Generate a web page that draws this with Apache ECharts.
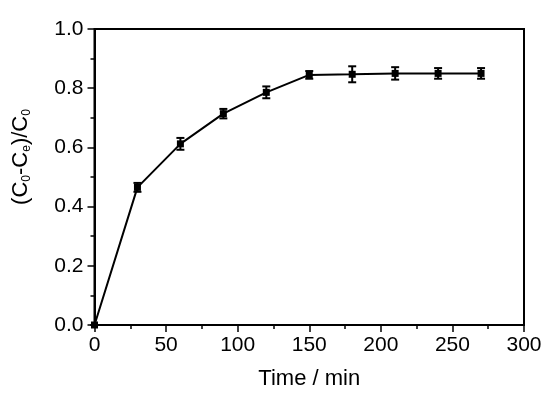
<!DOCTYPE html>
<html><head><meta charset="utf-8">
<script src="https://cdn.jsdelivr.net/npm/echarts@6/dist/echarts.min.js"></script>
<style>html,body{margin:0;padding:0;background:#fff}#c{width:550px;height:397px}</style>
</head><body><div id="c"></div>
<script>
var time = [0, 30, 60, 90, 120, 150, 180, 210, 240, 270];
var ratio = [0, 0.465, 0.612, 0.714, 0.786, 0.845, 0.847, 0.850, 0.850, 0.850];
var errs = [0, 0.015, 0.020, 0.016, 0.020, 0.013, 0.027, 0.021, 0.018, 0.018];
var xTicks = [0, 50, 100, 150, 200, 250, 300];
var yTicks = [0.0, 0.2, 0.4, 0.6, 0.8, 1.0];

var F = '"Liberation Sans", Arial, sans-serif';
var chart = echarts.init(document.getElementById('c'));
var lineData = time.map(function (t, i) { return [t, ratio[i]]; });
var errData = time.map(function (t, i) { return [t, ratio[i] - errs[i], ratio[i] + errs[i]]; });

chart.setOption({
  animation: false,
  grid: { left: 94.5, right: 26, top: 29, bottom: 72, show: true, borderColor: '#000', borderWidth: 2, backgroundColor: 'transparent' },
  xAxis: {
    type: 'value', min: xTicks[0], max: xTicks[xTicks.length - 1], interval: 50,
    name: 'Time / min', nameLocation: 'middle', nameGap: 43,
    nameTextStyle: { fontFamily: F, fontSize: 22, color: '#000' },
    axisLine: { show: true, onZero: false, lineStyle: { color: '#000', width: 2 } },
    axisTick: { show: true, inside: false, length: 7, lineStyle: { color: '#000', width: 1.5 } },
    minorTick: { show: true, splitNumber: 2, length: 4, lineStyle: { color: '#000', width: 1.5 } },
    axisLabel: { fontFamily: F, fontSize: 21, color: '#000', margin: 10 },
    splitLine: { show: false }
  },
  yAxis: {
    type: 'value', min: yTicks[0], max: yTicks[yTicks.length - 1], interval: 0.2,
    name: '{n|(C}{s|0}{n|-C}{s|e}{n|)/C}{s|0}', nameLocation: 'middle', nameGap: 62, nameRotate: 90,
    nameTextStyle: {
      padding: [0, 0, 0, 40],
      rich: {
        n: { fontFamily: F, fontSize: 22, color: '#000' },
        s: { fontFamily: F, fontSize: 12, color: '#000', verticalAlign: 'bottom', padding: [12, 0, 0, 0] }
      }
    },
    axisLine: { show: true, onZero: false, lineStyle: { color: '#000', width: 2 } },
    axisTick: { show: true, inside: false, length: 7, lineStyle: { color: '#000', width: 1.5 } },
    minorTick: { show: true, splitNumber: 2, length: 4, lineStyle: { color: '#000', width: 1.5 } },
    axisLabel: { fontFamily: F, fontSize: 21, color: '#000', margin: 11, formatter: function (v) { return v.toFixed(1); } },
    splitLine: { show: false }
  },
  series: [
    {
      type: 'line', data: lineData, symbol: 'rect', symbolSize: 7,
      lineStyle: { color: '#000', width: 2 }, itemStyle: { color: '#000' }, z: 3
    },
    {
      type: 'custom', data: errData, z: 4,
      renderItem: function (params, api) {
        var x = api.value(0);
        var lo = api.coord([x, api.value(1)]);
        var hi = api.coord([x, api.value(2)]);
        var hw = 4;
        var st = { stroke: '#000', lineWidth: 2 };
        return {
          type: 'group', children: [
            { type: 'line', shape: { x1: lo[0], y1: lo[1], x2: hi[0], y2: hi[1] }, style: st },
            { type: 'line', shape: { x1: lo[0] - hw, y1: lo[1], x2: lo[0] + hw, y2: lo[1] }, style: st },
            { type: 'line', shape: { x1: hi[0] - hw, y1: hi[1], x2: hi[0] + hw, y2: hi[1] }, style: st }
          ]
        };
      }
    }
  ]
});
</script></body></html>
